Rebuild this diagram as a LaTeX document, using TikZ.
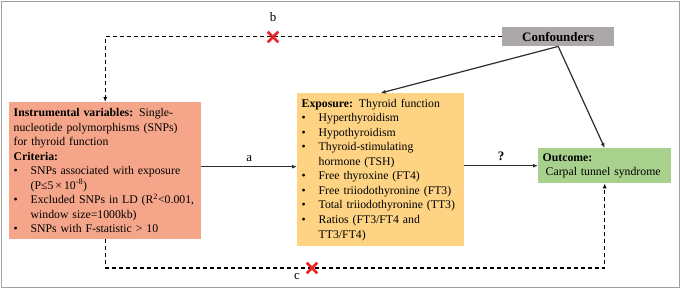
\documentclass[tikz,border=0pt]{standalone}
\usepackage{fontspec}
\setmainfont{Liberation Serif}
\usetikzlibrary{arrows.meta,shapes.misc}
\definecolor{IVSalmon}{RGB}{245,166,138}
\definecolor{ExpOrange}{RGB}{254,212,132}
\definecolor{OutGreen}{RGB}{169,209,142}
\definecolor{ConfGray}{RGB}{172,168,168}
\definecolor{LineGray}{RGB}{45,45,45}
\definecolor{CrossRed}{RGB}{232,38,38}
\definecolor{FrameGray}{RGB}{160,160,160}
\newcommand{\bul}{\makebox[17bp][l]{\textbullet}}
\newcommand{\ind}{\hspace*{17bp}}
\tikzset{
  >=Latex,
  box/.style={anchor=north west,align=left,font=\fontsize{11.8}{14.6}\selectfont,inner xsep=4.5bp,inner ysep=3bp,text=black},
  ivbox/.style={box,fill=IVSalmon,text width=183bp,minimum height=137bp},
  expbox/.style={box,fill=ExpOrange,text width=158bp,minimum height=153bp},
  outbox/.style={box,fill=OutGreen,text width=124bp,minimum height=35bp},
  confbox/.style={anchor=north west,fill=ConfGray,minimum width=112bp,minimum height=19bp,inner sep=0pt,font=\bfseries\fontsize{13}{14}\selectfont},
  link/.style={-{Latex[length=5bp,width=4bp]},line width=1.2bp,draw=LineGray},
  dlink/.style={link,draw=black,dash pattern=on 4bp off 3bp},
  nix/.style={cross out,draw=CrossRed,line width=2.6bp,minimum size=8bp,inner sep=0pt},
  tag/.style={font=\fontsize{13}{14}\selectfont,inner sep=1bp}
}
\begin{document}
\begin{tikzpicture}[x=1bp,y=-1bp]
  \useasboundingbox (0,0) rectangle (680,290);
  \draw[FrameGray,line width=1bp] (1,1) rectangle (679,287.5);
  % boxes
  \node[ivbox] (iv) at (9,102) {\textbf{Instrumental variables:} Single-\\
    nucleotide polymorphisms (SNPs)\\
    for thyroid function\\
    \textbf{Criteria:}\\
    \bul SNPs associated with exposure\\
    \ind (P≤5\,×\,10\textsuperscript{-8})\\
    \bul Excluded SNPs in LD (R\textsuperscript{2}<0.001,\\
    \ind window size=1000kb)\\
    \bul SNPs with F-statistic > 10};
  \node[expbox] (exp) at (297,93) {\textbf{Exposure:} Thyroid function\\
    \bul Hyperthyroidism\\
    \bul Hypothyroidism\\
    \bul Thyroid-stimulating\\
    \ind hormone (TSH)\\
    \bul Free thyroxine (FT4)\\
    \bul Free triiodothyronine (FT3)\\
    \bul Total triiodothyronine (TT3)\\
    \bul Ratios (FT3/FT4 and\\
    \ind TT3/FT4)};
  \node[outbox] (out) at (538,148) {\textbf{Outcome:}\\
    \hspace*{3bp}Carpal tunnel syndrome};
  \node[confbox] (conf) at (502,27) {Confounders};
  \coordinate (lowy) at (0,268);
  % links
  \draw[link] ([yshift=4bp]iv.east) -- ([yshift=4bp]iv.east -| exp.west) node[tag,midway,above=3bp] (la) {a};
  \draw[link] (exp.east |- out.west) -- (out.west) node[tag,midway,above=3bp,font=\bfseries\fontsize{13}{14}\selectfont] (lq) {?};
  \draw[link] (conf.south) -- (exp.north);
  \draw[link] (conf.south) -- (out.north);
  \draw[dlink] (conf.west) -| (iv.north);
  \draw[dlink] (iv.south) |- (lowy -| out.south) -- (out.south);
  % crosses and tags
  \node[nix] (xb) at (273,37) {};
  \node[tag] (lb) at (273,17) {b};
  \node[nix] (xc) at (312,268) {};
  \node[tag] (lc) at (297,277) {c};
\end{tikzpicture}
\end{document}
